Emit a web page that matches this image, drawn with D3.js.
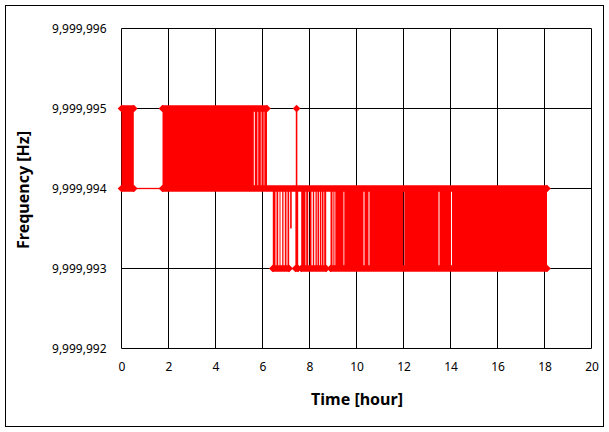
<!DOCTYPE html>
<html><head><meta charset="utf-8">
<script src="https://cdn.jsdelivr.net/npm/d3@7"></script>
<style>html,body{margin:0;padding:0;background:#fff}svg{display:block}</style>
</head><body><svg id="chart" width="609" height="432"></svg>
<script>
// ---- data ----
const xTickValues = [0, 2, 4, 6, 8, 10, 12, 14, 16, 18, 20];
const yTickValues = [9999992, 9999993, 9999994, 9999995, 9999996];

// intervals (hours) where the frequency toggles between two levels faster than the chart resolves
const denseStart = [0.000, 1.745, 5.672, 5.817, 5.957, 6.077, 6.438, 6.596, 6.723, 6.838, 6.949, 7.064, 7.404, 7.647, 7.860, 8.013, 8.140, 8.255, 8.340, 8.447, 8.523, 8.626, 8.894, 9.013, 9.098, 9.481, 10.340, 10.553, 12.034, 13.532, 14.064];
const denseEnd   = [0.523, 5.630, 5.787, 5.928, 6.051, 6.191, 6.553, 6.668, 6.766, 6.894, 7.021, 7.136, 7.519, 7.830, 7.945, 8.085, 8.200, 8.311, 8.413, 8.498, 8.596, 8.711, 8.979, 9.064, 9.447, 10.298, 10.511, 11.987, 13.489, 14.021, 18.106];
const denseLow   = [9999994, 9999994, 9999994, 9999994, 9999994, 9999994, 9999993, 9999993, 9999993, 9999993, 9999993, 9999993, 9999993, 9999993, 9999993, 9999993, 9999993, 9999993, 9999993, 9999993, 9999993, 9999993, 9999993, 9999993, 9999993, 9999993, 9999993, 9999993, 9999993, 9999993, 9999993];
const denseHigh  = [9999995, 9999995, 9999995, 9999995, 9999995, 9999995, 9999994, 9999994, 9999994, 9999994, 9999994, 9999994, 9999994, 9999994, 9999994, 9999994, 9999994, 9999994, 9999994, 9999994, 9999994, 9999994, 9999994, 9999994, 9999994, 9999994, 9999994, 9999994, 9999994, 9999994, 9999994];

// stretches where samples sit on one level (their markers merge into a thick line)
const runStart = [0.000, 0.000, 1.745, 1.745, 6.438, 7.404, 7.647, 8.894];
const runEnd   = [0.523, 0.523, 6.191, 18.106, 7.136, 7.519, 8.711, 18.106];
const runLevel = [9999995, 9999994, 9999995, 9999994, 9999993, 9999993, 9999993, 9999993];

// single excursions
const spikeTime = [7.45, 7.21];
const spikeFrom = [9999993, 9999994];
const spikeTo   = [9999995, 9999993.5];
const spikeMarker = [true, false];

// data gap joined by the plain line
const gapStart = [0.523];
const gapEnd   = [1.745];
const gapLevel = [9999994];

// ---- drawing ----
const svg = d3.select("#chart");
const W = 609, H = 432;
const red = "#ff0000";
const font = "'Noto Sans', 'DejaVu Sans', sans-serif";

const x = d3.scaleLinear().domain([0, 20]).range([121.5, 591.5]);
const y = d3.scaleLinear().domain([9999992, 9999996]).range([348.5, 28.5]);

svg.append("rect").attr("width", W).attr("height", H).attr("fill", "#fff");
svg.append("rect").attr("x", 5.5).attr("y", 5.5).attr("width", 598).attr("height", 421)
  .attr("fill", "none").attr("stroke", "#000").attr("stroke-width", 1);

const plot = svg.append("g");
// grid
plot.selectAll("line.vg").data(xTickValues).join("line")
  .attr("x1", d => x(d)).attr("x2", d => x(d))
  .attr("y1", y(9999996)).attr("y2", y(9999992))
  .attr("stroke", "#000").attr("stroke-width", 1);
plot.selectAll("line.hg").data(yTickValues).join("line")
  .attr("y1", d => y(d)).attr("y2", d => y(d))
  .attr("x1", x(0)).attr("x2", x(20))
  .attr("stroke", "#000").attr("stroke-width", 1);

// axes labels via d3 axes (lines hidden)
const fmt = d3.format(",d");
const yAxis = svg.append("g").attr("transform", `translate(${x(0)},0)`)
  .call(d3.axisLeft(y).tickValues(yTickValues).tickFormat(fmt).tickSize(0).tickPadding(15));
const xAxis = svg.append("g").attr("transform", `translate(0,${y(9999992)})`)
  .call(d3.axisBottom(x).tickValues(xTickValues).tickSize(0).tickPadding(14));
[yAxis, xAxis].forEach(a => {
  a.select(".domain").remove();
  a.selectAll("text").attr("font-family", font).attr("font-size", 12).attr("fill", "#000");
});

// data
const dense = denseStart.map((s, i) => ({s, e: denseEnd[i], lo: denseLow[i], hi: denseHigh[i]}));
const runs = runStart.map((s, i) => ({s, e: runEnd[i], v: runLevel[i]}));
const spikes = spikeTime.map((t, i) => ({t, a: spikeFrom[i], b: spikeTo[i], m: spikeMarker[i]}));
const gaps = gapStart.map((s, i) => ({s, e: gapEnd[i], v: gapLevel[i]}));

const data = svg.append("g");
data.selectAll("line.gap").data(gaps).join("line")
  .attr("x1", d => x(d.s)).attr("x2", d => x(d.e))
  .attr("y1", d => y(d.v)).attr("y2", d => y(d.v))
  .attr("stroke", red).attr("stroke-width", 1.3);

data.selectAll("rect.dense").data(dense).join("rect")
  .attr("x", d => x(d.s)).attr("width", d => Math.max(1, x(d.e) - x(d.s)))
  .attr("y", d => y(d.hi)).attr("height", d => y(d.lo) - y(d.hi))
  .attr("fill", red);

data.selectAll("line.run").data(runs).join("line")
  .attr("x1", d => x(d.s)).attr("x2", d => x(d.e))
  .attr("y1", d => y(d.v)).attr("y2", d => y(d.v))
  .attr("stroke", red).attr("stroke-width", 6.5);

data.selectAll("line.spike").data(spikes).join("line")
  .attr("x1", d => x(d.t)).attr("x2", d => x(d.t))
  .attr("y1", d => y(d.a)).attr("y2", d => y(d.b))
  .attr("stroke", red).attr("stroke-width", 1.6);

const diamond = r => `M0,${-r}L${r},0L0,${r}L${-r},0Z`;
const markerPts = [];
runs.forEach(d => { markerPts.push([d.s, d.v]); markerPts.push([d.e, d.v]); });
spikes.filter(d => d.m).forEach(d => markerPts.push([d.t, d.b]));
data.selectAll("path.mk").data(markerPts).join("path")
  .attr("transform", d => `translate(${x(d[0])},${y(d[1])})`)
  .attr("d", diamond(3.8)).attr("fill", red);

// titles
svg.append("text").attr("x", 357).attr("y", 399).attr("dy", "0.35em")
  .attr("text-anchor", "middle").attr("font-family", font).attr("font-weight", "bold")
  .attr("font-size", 16).attr("fill", "#000").text("Time [hour]");
svg.append("text").attr("transform", "translate(23,190) rotate(-90)").attr("dy", "0.35em")
  .attr("text-anchor", "middle").attr("font-family", font).attr("font-weight", "bold")
  .attr("font-size", 16).attr("fill", "#000").text("Frequency [Hz]");
</script></body></html>
